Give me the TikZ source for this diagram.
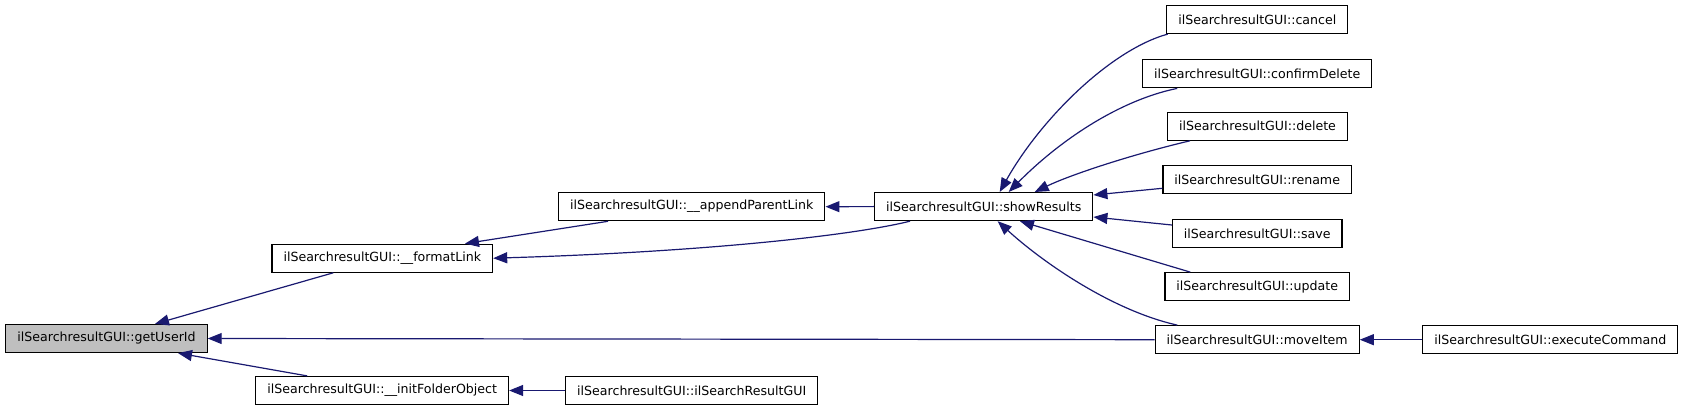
\documentclass[tikz,border=0pt]{standalone}
\usepackage{fontspec}
\setmainfont{DejaVu Sans}
\usetikzlibrary{arrows.meta}
\definecolor{edgeblue}{RGB}{25,25,112}
\definecolor{hilite}{RGB}{191,191,191}
\begin{document}
\begin{tikzpicture}[x=1pt,y=-1pt,
  fn/.style={draw=black, line width=1.2pt, fill=white, inner xsep=11.5pt, inner ysep=0pt,
    minimum height=28pt, font=\fontsize{12.6}{15}\selectfont, anchor=center},
  cur/.style={fn, fill=hilite},
  call/.style={draw=edgeblue, line width=1.2pt, -{Triangle[length=14pt,width=11pt]}}]
\useasboundingbox (0,0) rectangle (1685,411);
% nodes
\node[cur] (getuser) at (106.5,338.5) {ilSearchresultGUI::getUserId};
\node[fn] (format) at (382.3,258.2) {ilSearchresultGUI::\_\_formatLink};
\node[fn] (initfolder) at (382.2,390.5) {ilSearchresultGUI::\_\_initFolderObject};
\node[fn] (append) at (691.7,206.7) {ilSearchresultGUI::\_\_appendParentLink};
\node[fn] (ctor) at (691.7,390.5) {ilSearchresultGUI::ilSearchResultGUI};
\node[fn] (show) at (983.7,206.6) {ilSearchresultGUI::showResults};
\node[fn] (cancel) at (1257.3,19.5) {ilSearchresultGUI::cancel};
\node[fn] (confirm) at (1257.2,73.8) {ilSearchresultGUI::confirmDelete};
\node[fn] (delete) at (1257.5,126.2) {ilSearchresultGUI::delete};
\node[fn] (rename) at (1257.2,179.8) {ilSearchresultGUI::rename};
\node[fn] (save) at (1257.2,233.5) {ilSearchresultGUI::save};
\node[fn] (update) at (1257.2,286.7) {ilSearchresultGUI::update};
\node[fn] (move) at (1257.2,339.7) {ilSearchresultGUI::moveItem};
\node[fn] (exec) at (1550.3,339.7) {ilSearchresultGUI::executeCommand};
% edges (caller -> callee, arrow at callee)
\draw[call] ([xshift=-49pt]format.south) -- ([xshift=48.5pt]getuser.north);
\draw[call] (move.west) -- (getuser.east);
\draw[call] ([xshift=-75pt]initfolder.north) -- ([xshift=71.5pt]getuser.south);
\draw[call] ([xshift=-83.7pt]append.south) -- ([xshift=82.7pt]format.north);
\draw[call] ([xshift=-73.7pt]show.south) .. controls (850,236) and (700,252) .. (format.east);
\draw[call] (show.west) -- (append.east);
\draw[call] ([xshift=1.5pt]cancel.south west) .. controls (1110,50) and (1040,120) .. ([xshift=16pt]show.north);
\draw[call] ([xshift=-80pt]confirm.south) .. controls (1120,100) and (1060,140) .. ([xshift=25pt]show.north);
\draw[call] ([xshift=-67.5pt]delete.south) .. controls (1130,155) and (1070,175) .. ([xshift=51pt]show.north);
\draw[call] ([yshift=-8.5pt]rename.west) -- ([yshift=11.6pt]show.east);
\draw[call] ([yshift=8.5pt]save.west) -- ([yshift=-10.4pt]show.east);
\draw[call] ([xshift=-67pt]update.north) -- ([xshift=36.3pt]show.south);
\draw[call] ([xshift=-80pt]move.north) .. controls (1110,310) and (1040,260) .. ([xshift=14pt]show.south);
\draw[call] (exec.west) -- (move.east);
\draw[call] (ctor.west) -- (initfolder.east);
\end{tikzpicture}
\end{document}
